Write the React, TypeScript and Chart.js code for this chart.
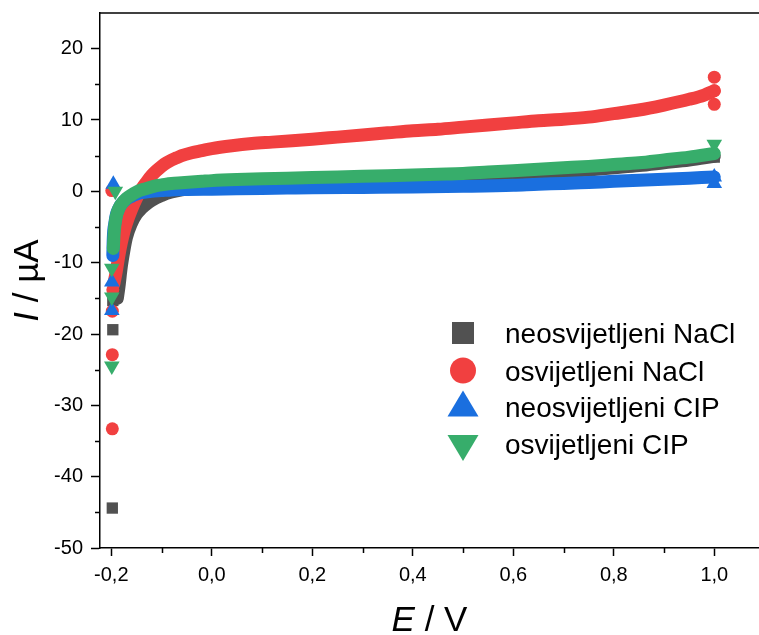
import React, { useEffect, useRef } from 'react';
import { Chart, registerables } from 'chart.js';

Chart.register(...registerables);

// ---- axis ticks ----
const X_TICKS = [-0.2, 0, 0.2, 0.4, 0.6, 0.8, 1.0];
const X_MINOR = [-0.1, 0.1, 0.3, 0.5, 0.7, 0.9];
const Y_TICKS = [-50, -40, -30, -20, -10, 0, 10, 20];
const Y_MINOR = [-45, -35, -25, -15, -5, 5, 15];
const X_MIN = -0.2225;
const X_MAX = 1.089;
const Y_MIN = -50;
const Y_MAX = 25;

const SERIES_NAMES = ['neosvijetljeni NaCl', 'osvijetljeni NaCl', 'neosvijetljeni CIP', 'osvijetljeni CIP'];

// ---- continuous scan curves [E (V), I (µA)] ----
const grayCurve = [
  [-0.188, -15], [-0.185, -13.5], [-0.18, -10.5], [-0.175, -8.3], [-0.17, -6.5], [-0.16, -4.5],
  [-0.15, -3.2], [-0.14, -2.4], [-0.13, -1.8], [-0.12, -1.3], [-0.11, -0.9], [-0.1, -0.6],
  [-0.09, -0.3], [-0.08, -0.1], [-0.06, 0.2], [-0.04, 0.4], [0, 0.6], [0.1, 0.9], [0.2, 1.1],
  [0.3, 1.3], [0.4, 1.5], [0.5, 1.8], [0.6, 2.2], [0.7, 2.7], [0.8, 3.3], [0.85, 3.6],
  [0.9, 4.0], [0.95, 4.4], [1.0, 4.9],
];
const redCurve = [
  [-0.195, -13], [-0.19, -11.2], [-0.185, -9], [-0.18, -7.2], [-0.175, -5.7], [-0.17, -4.5],
  [-0.16, -2.6], [-0.15, -1.0], [-0.14, 0.3], [-0.13, 1.3], [-0.12, 2.2], [-0.11, 2.9],
  [-0.1, 3.5], [-0.09, 4.0], [-0.08, 4.4], [-0.07, 4.7], [-0.06, 5.0], [-0.04, 5.4],
  [-0.02, 5.7], [0, 6.0], [0.04, 6.4], [0.08, 6.7], [0.12, 6.9], [0.16, 7.1], [0.2, 7.3],
  [0.25, 7.6], [0.3, 7.9], [0.35, 8.2], [0.4, 8.5], [0.45, 8.7], [0.5, 9.0], [0.55, 9.3],
  [0.6, 9.6], [0.65, 9.9], [0.7, 10.1], [0.75, 10.4], [0.8, 10.9], [0.85, 11.4], [0.9, 12.1],
  [0.95, 12.9], [0.98, 13.5], [1.0, 14.1],
];
const blueCurve = [
  [-0.197, -9], [-0.196, -6.5], [-0.193, -4.5], [-0.19, -3.3], [-0.185, -2.4], [-0.18, -1.8],
  [-0.17, -1.1], [-0.16, -0.7], [-0.15, -0.4], [-0.14, -0.2], [-0.12, 0.0], [-0.1, 0.1],
  [-0.08, 0.2], [-0.05, 0.25], [0, 0.3], [0.05, 0.35], [0.1, 0.4], [0.15, 0.45], [0.2, 0.5],
  [0.3, 0.55], [0.4, 0.6], [0.5, 0.7], [0.6, 0.85], [0.65, 1.0], [0.7, 1.1], [0.75, 1.25],
  [0.8, 1.4], [0.85, 1.55], [0.9, 1.7], [0.95, 1.85], [1.0, 2.0],
];
const greenCurve = [
  [-0.196, -8], [-0.194, -5.5], [-0.19, -3.5], [-0.185, -2.4], [-0.18, -1.8], [-0.17, -1.0],
  [-0.16, -0.5], [-0.15, -0.1], [-0.14, 0.2], [-0.13, 0.4], [-0.12, 0.6], [-0.11, 0.8],
  [-0.1, 0.9], [-0.08, 1.1], [-0.06, 1.2], [-0.04, 1.3], [-0.02, 1.4], [0, 1.5], [0.05, 1.65],
  [0.1, 1.75], [0.15, 1.85], [0.2, 1.95], [0.25, 2.0], [0.3, 2.1], [0.35, 2.2], [0.4, 2.3],
  [0.45, 2.4], [0.5, 2.5], [0.55, 2.7], [0.6, 2.9], [0.65, 3.1], [0.7, 3.3], [0.75, 3.5],
  [0.8, 3.75], [0.85, 4.0], [0.9, 4.4], [0.95, 4.8], [1.0, 5.3],
];

// ---- separate points at start / end of the scan ----
const grayPoints = [[-0.198, -44.4], [-0.197, -19.4], [-0.197, -15.3], [1.0, 4.8]];
const redPoints = [[-0.198, -33.3], [-0.198, -22.9], [-0.198, -16.8], [-0.197, -13.8], [-0.199, 0.1], [1.0, 16.0], [1.0, 12.2], [1.0, 14.1]];
const bluePoints = [[-0.199, -16.7], [-0.199, -12.7], [-0.196, 1.0], [1.0, 1.1], [1.0, 2.0]];
const greenPoints = [[-0.199, -24.5], [-0.199, -14.8], [-0.199, -10.8], [-0.192, 0.0], [1.0, 6.6]];

const COLORS = ['#515151', '#F14040', '#1A6FDF', '#37AD6B'];
const FONT = "'Liberation Sans', Arial, Helvetica, sans-serif";

const toXY = (arr: number[][]) => arr.map(([x, y]) => ({ x, y }));

function drawMarker(ctx: CanvasRenderingContext2D, kind: string, x: number, y: number, color: string) {
  ctx.save();
  ctx.fillStyle = color;
  ctx.beginPath();
  if (kind === 'rect') {
    ctx.rect(x - 11, y - 11, 22, 22);
  } else if (kind === 'circle') {
    ctx.arc(x, y, 13, 0, Math.PI * 2);
  } else if (kind === 'triangle') {
    ctx.moveTo(x, y - 13);
    ctx.lineTo(x + 15.5, y + 13);
    ctx.lineTo(x - 15.5, y + 13);
    ctx.closePath();
  } else {
    ctx.moveTo(x - 15.5, y - 13);
    ctx.lineTo(x + 15.5, y - 13);
    ctx.lineTo(x, y + 13);
    ctx.closePath();
  }
  ctx.fill();
  ctx.restore();
}

const decorPlugin = {
  id: 'decor',
  afterDraw(chart: any) {
    const ctx: CanvasRenderingContext2D = chart.ctx;
    const { left, right, top, bottom } = chart.chartArea;
    const xs = chart.scales.x;
    const ys = chart.scales.y;
    ctx.save();
    ctx.strokeStyle = '#000';
    ctx.lineWidth = 1.5;
    // top frame line
    ctx.beginPath();
    ctx.moveTo(left - 1, top);
    ctx.lineTo(right, top);
    ctx.stroke();
    // minor ticks
    ctx.beginPath();
    X_MINOR.forEach((v) => {
      const px = Math.round(xs.getPixelForValue(v)) + 0.5;
      ctx.moveTo(px, bottom);
      ctx.lineTo(px, bottom + 5);
    });
    Y_MINOR.forEach((v) => {
      const py = Math.round(ys.getPixelForValue(v)) + 0.5;
      ctx.moveTo(left - 5, py);
      ctx.lineTo(left, py);
    });
    ctx.stroke();

    // axis titles
    ctx.fillStyle = '#000';
    ctx.textBaseline = 'alphabetic';
    ctx.textAlign = 'left';
    const tSize = 35;
    const italic = `italic ${tSize}px ${FONT}`;
    const normal = `${tSize}px ${FONT}`;
    // x title
    ctx.font = italic;
    const wE = ctx.measureText('E').width;
    ctx.font = normal;
    const wRest = ctx.measureText(' / V').width;
    const cx = (left + right) / 2;
    let sx = cx - (wE + wRest) / 2;
    ctx.font = italic;
    ctx.fillText('E', sx, 631);
    ctx.font = normal;
    ctx.fillText(' / V', sx + wE, 631);
    // y title
    ctx.save();
    ctx.translate(38, (top + bottom) / 2);
    ctx.rotate(-Math.PI / 2);
    ctx.font = italic;
    const wI = ctx.measureText('I').width;
    ctx.font = normal;
    const wR = ctx.measureText(' / µA').width;
    sx = -(wI + wR) / 2;
    ctx.font = italic;
    ctx.fillText('I', sx, 0);
    ctx.font = normal;
    ctx.fillText(' / µA', sx + wI, 0);
    ctx.restore();

    // legend
    const kinds = ['rect', 'circle', 'triangle', 'invtriangle'];
    const markerY = [333, 370.5, 403.5, 448];
    const textY = [343, 380.5, 417, 453.5];
    ctx.font = `28px ${FONT}`;
    SERIES_NAMES.forEach((name, i) => {
      drawMarker(ctx, kinds[i], 463, markerY[i], COLORS[i]);
      ctx.fillStyle = '#000';
      ctx.fillText(name, 505, textY[i]);
    });
    ctx.restore();
  },
};

export default function App() {
  const ref = useRef<HTMLCanvasElement | null>(null);
  useEffect(() => {
    if (!ref.current) return;
    const band = (data: number[][], color: string) => ({
      data: toXY(data),
      showLine: true,
      borderColor: color,
      backgroundColor: color,
      borderWidth: 13,
      borderCapStyle: 'round',
      borderJoinStyle: 'round',
      cubicInterpolationMode: 'monotone',
      pointRadius: 0,
      pointHoverRadius: 0,
    });
    const pts = (data: number[][], color: string, style: string, r: number, rot = 0) => ({
      data: toXY(data),
      showLine: false,
      backgroundColor: color,
      borderColor: color,
      borderWidth: 0,
      pointStyle: style,
      pointRadius: r,
      pointRotation: rot,
    });
    const chart = new Chart(ref.current, {
      type: 'scatter',
      data: {
        datasets: [
          pts(greenPoints, COLORS[3], 'triangle', 9, 180),
          band(greenCurve, COLORS[3]),
          pts(bluePoints, COLORS[2], 'triangle', 9),
          band(blueCurve, COLORS[2]),
          pts(redPoints, COLORS[1], 'circle', 6.5),
          band(redCurve, COLORS[1]),
          pts(grayPoints, COLORS[0], 'rect', 8),
          band(grayCurve, COLORS[0]),
        ] as any,
      },
      options: {
        responsive: false,
        animation: false,
        devicePixelRatio: 1,
        layout: { autoPadding: false, padding: { top: 13, left: 0, right: 0, bottom: 0 } },
        plugins: { legend: { display: false }, tooltip: { enabled: false } },
        scales: {
          x: {
            type: 'linear',
            min: X_MIN,
            max: X_MAX,
            afterBuildTicks: (s: any) => { s.ticks = X_TICKS.map((v) => ({ value: v })); },
            afterFit: (s: any) => { s.height = 87; s.paddingLeft = 0; s.paddingRight = 0; },
            border: { display: true, color: '#000', width: 1.5 },
            grid: { drawOnChartArea: false, drawTicks: true, tickLength: 8, tickColor: '#000', tickWidth: 1.5 },
            ticks: {
              color: '#000',
              font: { family: FONT, size: 20 },
              padding: 7,
              maxRotation: 0,
              autoSkip: false,
              callback: (v: any) => Number(v).toFixed(1).replace('.', ','),
            },
          },
          y: {
            type: 'linear',
            min: Y_MIN,
            max: Y_MAX,
            afterBuildTicks: (s: any) => { s.ticks = Y_TICKS.map((v) => ({ value: v })); },
            afterFit: (s: any) => { s.width = 100; s.paddingTop = 0; s.paddingBottom = 0; },
            border: { display: true, color: '#000', width: 1.5 },
            grid: { drawOnChartArea: false, drawTicks: true, tickLength: 9, tickColor: '#000', tickWidth: 1.5 },
            ticks: {
              color: '#000',
              font: { family: FONT, size: 20 },
              padding: 8,
              autoSkip: false,
              callback: (v: any) => String(v),
            },
          },
        },
      } as any,
      plugins: [decorPlugin],
    });
    return () => chart.destroy();
  }, []);
  return (
    <div style={{ position: 'absolute', left: 0, top: 0, width: 759, height: 635, background: '#fff' }}>
      <canvas ref={ref} width={759} height={635} style={{ display: 'block' }} />
    </div>
  );
}
